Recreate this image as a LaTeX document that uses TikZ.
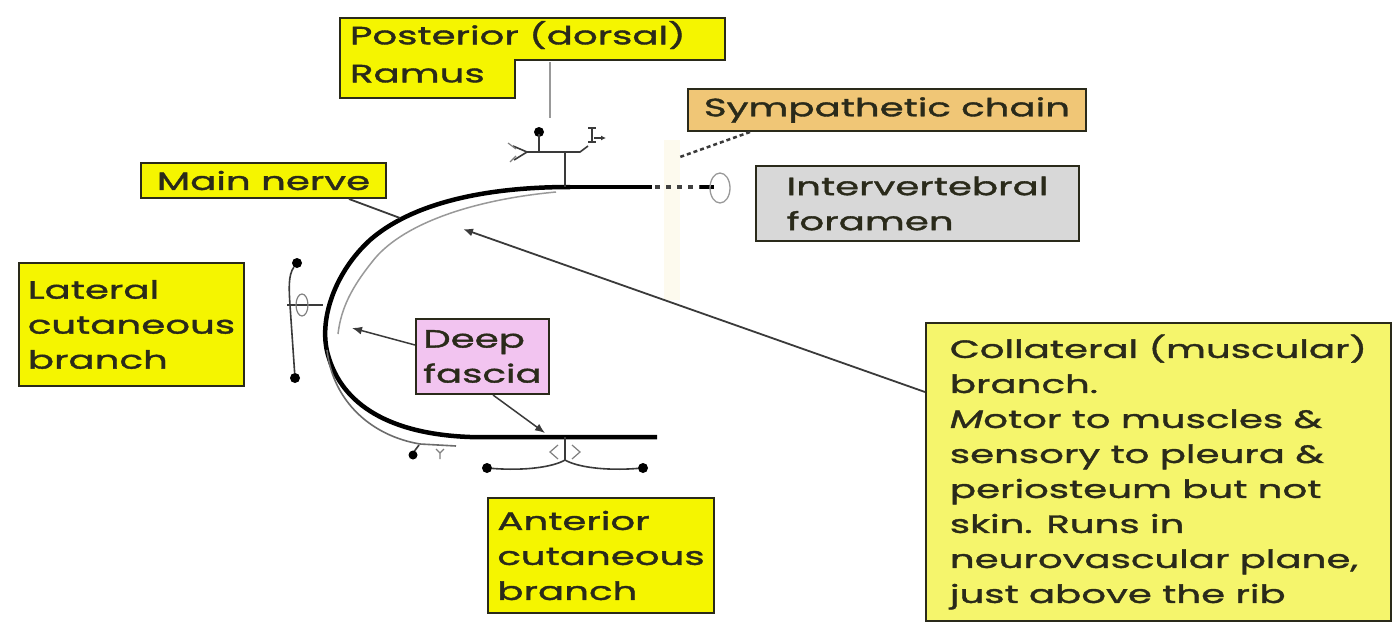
\documentclass[tikz,border=0pt]{standalone}
\usepackage{fontspec}
\setmainfont[FakeStretch=1.55, FakeBold=1.5]{Poppins}
\usetikzlibrary{arrows.meta}

\definecolor{boxyellow}{HTML}{F5F500}
\definecolor{paleyellow}{HTML}{F5F56C}
\definecolor{chaintan}{HTML}{F0C676}
\definecolor{foramengray}{HTML}{D8D8D8}
\definecolor{fasciapink}{HTML}{F2C4F0}
\definecolor{edge}{HTML}{2A2A1A}
\definecolor{inkgray}{HTML}{3A3A3A}
\definecolor{faintband}{HTML}{FDFAEE}

\tikzset{
  tag/.style={draw=edge, line width=2pt, anchor=north west, inner xsep=0pt,
    inner ysep=0pt, align=left, text=edge,
    font=\fontsize{25pt}{35pt}\selectfont},
  nerve/.style={line width=4.5pt, black},
  branchline/.style={line width=1.6pt, inkgray},
  faintline/.style={line width=1.5pt, gray!80},
  pointer/.style={line width=1.8pt, inkgray},
  tip/.style={-{Latex[length=10pt,width=8pt]}},
  knob/.style={circle, fill=black, inner sep=0pt, minimum size=10pt}
}

\begin{document}
\begin{tikzpicture}[x=1pt,y=-1pt]
\useasboundingbox (0,0) rectangle (1395,624);
\fill[white] (0,0) rectangle (1395,624);

% faint band behind the foramen region
\fill[faintband] (664,140) rectangle (680,300);

% ---- labels ----
\fill[boxyellow, draw=edge, line width=2pt]
  (340,18) -- (725,18) -- (725,60) -- (515,60) -- (515,98) -- (340,98) -- cycle;
\node[tag, draw=none, fill=none, inner xsep=9pt] (ramus) at (340,20) {Posterior (dorsal)\\[3pt]Ramus};

\node[tag, fill=chaintan, minimum width=398pt, minimum height=42pt] (chain) at (687,88) {Sympathetic chain};
\node[tag, fill=boxyellow, minimum width=245pt, minimum height=35pt] (mainnerve) at (140,162) {Main nerve};
\node[tag, fill=foramengray, minimum width=323pt, minimum height=75pt] (foramen) at (755,165) {Intervertebral\\foramen};
\node[tag, fill=boxyellow, minimum width=225pt, minimum height=123pt] (lateral) at (18,262) {Lateral\\cutaneous\\branch};
\node[tag, fill=fasciapink, minimum width=133pt, minimum height=75pt] (fascia) at (415,318) {Deep\\fascia};
\node[tag, fill=boxyellow, minimum width=226pt, minimum height=115pt] (anterior) at (487,497) {Anterior\\cutaneous\\branch};
\node[tag, fill=paleyellow, minimum width=465pt, minimum height=298pt] (collateral) at (925,322)
  {Collateral (muscular)\\branch.\\{\itshape M}otor to muscles \&\\sensory to pleura \&\\periosteum but not\\skin. Runs in\\neurovascular plane,\\just above the rib};

% ---- points on the nerve ----
\coordinate (root) at (565,187);
\coordinate (mnhit) at (400,218);
\coordinate (colhit) at (463,229);
\coordinate (fasciahitA) at (352,328);
\coordinate (fasciahitB) at (545,433);
\coordinate (chainhit) at (680,157);

% ---- main nerve ----
\draw[nerve] (root) -- (652,187);
\draw[nerve, dash pattern=on 5pt off 6pt, black!75] (655,187) -- (700,187);
\draw[nerve] (700,187) -- (714,187);
\draw[line width=1.3pt, gray!80] (720,188) ellipse [x radius=10pt, y radius=15pt];
\draw[nerve] (root) -- (570,187) .. controls (480,187) and (410,205) .. (370,240)
  .. controls (335,272) and (318,320) .. (328,355)
  .. controls (342,405) and (390,434) .. (470,437) -- (657,437);

% collateral branch running inside the curve
\draw[faintline] (556,192) .. controls (470,200) and (400,225) .. (372,262)
  .. controls (352,287) and (341,308) .. (338,334);

% outer thin branch along the lower curve
\draw[branchline, gray!85!black] (327,350) .. controls (333,402) and (372,436) .. (420,444) -- (456,446);
\draw[branchline] (419,445) -- (413,453);
\node[knob, minimum size=9pt] (antdotL) at (413,455) {};
\draw[line width=1.2pt, gray] (436,449) -- (440,453) -- (444,449) (440,453) -- (440,459);

% ---- posterior ramus branches ----
\draw[faintline] (550,62) -- (550,118);
\draw[branchline] (root) -- (565,152);
\draw[branchline] (527,152) -- (580,152) -- (588,146);
\node[knob, minimum size=10pt] (rdot) at (539,132) {};
\draw[branchline] (539,134) -- (539,152);
\draw[branchline] (527,152) -- (513,146) (527,152) -- (514,160);
\draw[line width=1.2pt, gray] (508,143) -- (516,149) (510,162) -- (516,156);
\draw[branchline] (592,128) -- (592,142) (588,128) -- (596,128) (588,142) -- (596,142);
\draw[line width=1.2pt, inkgray, -{Latex[length=5pt,width=5pt]}] (594,138) -- (606,138);

% ---- lateral cutaneous branch ----
\node[knob] (latdotT) at (297,263) {};
\node[knob] (latdotB) at (295,378) {};
\draw[branchline] (latdotT) .. controls (288,275) and (289,290) .. (290,305) -- (latdotB);
\draw[branchline] (287,305) -- (323,305);
\draw[line width=1.2pt, gray] (302,305) ellipse [x radius=6pt, y radius=11pt];

% ---- anterior cutaneous branch ----
\node[knob] (antdotA) at (487,468) {};
\node[knob] (antdotB) at (643,468) {};
\draw[branchline] (565,437) -- (565,460);
\draw[branchline] (antdotA) .. controls (525,471) and (553,467) .. (565,460)
  .. controls (577,467) and (605,471) .. (antdotB);
\draw[line width=1.2pt, gray] (558,445) -- (550,452) -- (558,459) (572,445) -- (580,452) -- (572,459);

% ---- pointers from the labels ----
\draw[pointer] ([xshift=-38pt]mainnerve.south east) -- (mnhit);
\draw[pointer, tip] ([yshift=-70pt]collateral.north west) -- (colhit);
\draw[pointer, line width=1.5pt, tip] ([yshift=-27pt]fascia.north west) -- (fasciahitA);
\draw[pointer, line width=1.5pt, tip] ([xshift=78pt]fascia.south west) -- (fasciahitB);
\draw[pointer, line width=2.5pt, dash pattern=on 4pt off 3pt] ([xshift=63pt]chain.south west) -- (chainhit);
\end{tikzpicture}
\end{document}
